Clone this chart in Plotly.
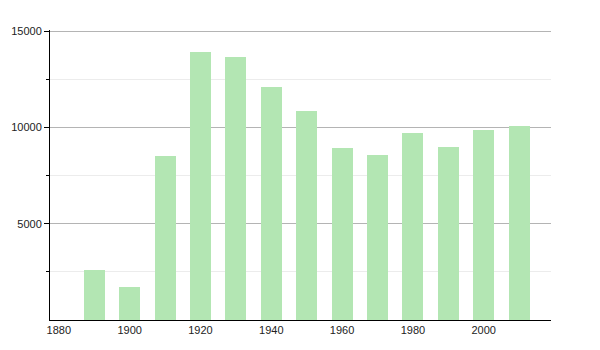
import plotly.graph_objects as go

years = [1890, 1900, 1910, 1920, 1930, 1940, 1950, 1960, 1970, 1980, 1990, 2000, 2010]
population = [2600, 1730, 8530, 13930, 13670, 12110, 10870, 8940, 8560, 9690, 8980, 9880, 10070]
x_ticks = [1880, 1900, 1920, 1940, 1960, 1980, 2000]
y_ticks = [5000, 10000, 15000]

fig = go.Figure(go.Bar(
    x=years, y=population, width=5.9,
    marker=dict(color="#b3e6b3", line=dict(width=0)),
))

fig.update_layout(
    width=600, height=350,
    margin=dict(l=50, r=49, t=30, b=30),
    paper_bgcolor="white", plot_bgcolor="white",
    font=dict(family="Liberation Sans, Arial, sans-serif", size=11, color="#222"),
    showlegend=False, bargap=0,
)
fig.update_xaxes(
    range=[1877.5, 2019], tickvals=x_ticks, ticktext=[str(v) for v in x_ticks],
    showline=True, linecolor="black", linewidth=1, showgrid=False,
    ticks="", zeroline=False,
)
fig.update_yaxes(
    range=[0, 15060], tickvals=y_ticks, ticktext=[str(v) for v in y_ticks],
    showline=True, linecolor="black", linewidth=1,
    showgrid=True, gridcolor="#b4b4b4", gridwidth=1,
    ticks="outside", ticklen=5, tickcolor="black",
    zeroline=False,
    minor=dict(tickvals=[2500, 7500, 12500], showgrid=True, gridcolor="#ececec",
               ticks="outside", ticklen=3, tickcolor="black"),
)

fig.write_html("out.html")
